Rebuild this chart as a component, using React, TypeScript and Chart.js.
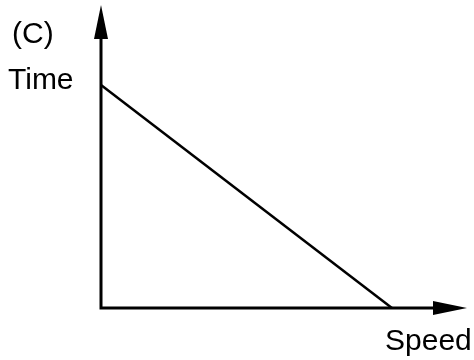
import React, { useEffect, useRef } from "react";
import { Chart, registerables } from "chart.js";

Chart.register(...registerables);

const speedValues = [0, 10];
const timeValues = [10, 0];
const panelLabel = "(C)";
const yLabel = "Time";
const xLabel = "Speed";

const X_MAX = 12.58;
const Y_MAX = 13.59;

const axesPlugin = {
  id: "arrowAxes",
  afterDraw(chart: any) {
    const { ctx, chartArea, scales } = chart;
    const x0 = scales.x.getPixelForValue(0);
    const y0 = scales.y.getPixelForValue(0);
    const top = chartArea.top;
    const right = chartArea.right;
    const headLen = 34;
    const headHalf = 7;
    ctx.save();
    ctx.strokeStyle = "#000";
    ctx.fillStyle = "#000";
    ctx.lineWidth = 3;
    ctx.lineJoin = "miter";
    ctx.lineCap = "butt";
    ctx.beginPath();
    ctx.moveTo(x0, top + headLen - 2);
    ctx.lineTo(x0, y0);
    ctx.lineTo(right - headLen + 2, y0);
    ctx.stroke();
    // y arrow head
    ctx.beginPath();
    ctx.moveTo(x0, top);
    ctx.lineTo(x0 + headHalf, top + headLen);
    ctx.lineTo(x0 - headHalf, top + headLen);
    ctx.closePath();
    ctx.fill();
    // x arrow head
    ctx.beginPath();
    ctx.moveTo(right, y0);
    ctx.lineTo(right - headLen, y0 - headHalf);
    ctx.lineTo(right - headLen, y0 + headHalf);
    ctx.closePath();
    ctx.fill();
    // texts
    ctx.font = '30px "Liberation Sans", Arial, sans-serif';
    ctx.textBaseline = "alphabetic";
    ctx.textAlign = "left";
    ctx.fillText(panelLabel, 12, 43);
    ctx.fillText(yLabel, 8, 89);
    ctx.fillText(xLabel, 385, 350);
    ctx.restore();
  },
};

export default function App() {
  const ref = useRef<HTMLCanvasElement>(null);
  useEffect(() => {
    const canvas = ref.current;
    if (!canvas) return;
    const chart = new Chart(canvas, {
      type: "line",
      data: {
        datasets: [
          {
            data: speedValues.map((s, i) => ({ x: s, y: timeValues[i] })),
            borderColor: "#000",
            borderWidth: 2.5,
            pointRadius: 0,
            fill: false,
            clip: false as any,
          },
        ],
      },
      options: {
        responsive: false,
        animation: false,
        layout: { padding: { left: 101, right: 7, top: 5, bottom: 52 } },
        plugins: { legend: { display: false }, tooltip: { enabled: false } },
        scales: {
          x: { type: "linear", min: 0, max: X_MAX, display: false },
          y: { type: "linear", min: 0, max: Y_MAX, display: false },
        },
      },
      plugins: [axesPlugin],
    });
    return () => chart.destroy();
  }, []);
  return (
    <div style={{ position: "absolute", left: 0, top: 0, width: 474, height: 360, background: "#fff" }}>
      <canvas ref={ref} width={474} height={360} />
    </div>
  );
}
